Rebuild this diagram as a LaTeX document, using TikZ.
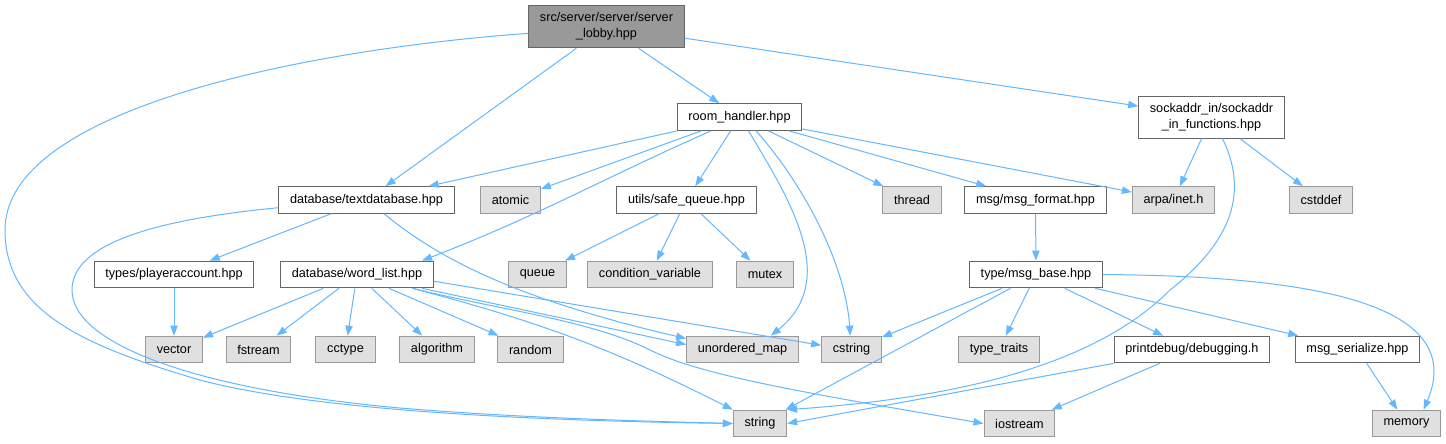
\documentclass[tikz,border=0pt]{standalone}
\usepackage{fontspec}
\setmainfont{Liberation Sans}
\usetikzlibrary{arrows.meta}
\definecolor{edgeblue}{HTML}{63B8FF}
\definecolor{boxline}{HTML}{666666}
\definecolor{sysline}{HTML}{999999}
\definecolor{sysfill}{HTML}{E0E0E0}
\definecolor{rootfill}{HTML}{999999}
\tikzset{
  every node/.style={font=\fontsize{9.5}{12}\selectfont,text=black,inner xsep=8.4pt,inner ysep=0pt,minimum height=20pt},
  hdr/.style={draw=boxline,fill=white,line width=.75pt},
  syshdr/.style={draw=sysline,fill=sysfill,line width=.75pt},
  rootfile/.style={draw=boxline,fill=rootfill,line width=.75pt,align=center,minimum height=32pt},
  twoline/.style={align=center,minimum height=31.5pt},
  incl/.style={-{Triangle[length=7.5pt,width=5.5pt]},draw=edgeblue,line width=.75pt},
}

\begin{document}
\begin{tikzpicture}[x=.75pt,y=-.75pt]
\path[use as bounding box] (0,0) rectangle (1446,443);
\fill[white] (0,0) rectangle (1446,443);
% files, one row per include depth
\node[rootfile] (lobby) at (606.5,26.5) {src/server/server/server\\\_lobby.hpp};
\node[hdr] (rh) at (739.5,117) {room\_handler.hpp};
\node[hdr,twoline] (sock) at (1211.5,117) {sockaddr\_in/sockaddr\\\_in\_functions.hpp};
\node[hdr] (tdb) at (366.5,200) {database/textdatabase.hpp};
\node[syshdr] (atomic) at (510.5,200) {atomic};
\node[hdr] (safeq) at (686.5,200) {utils/safe\_queue.hpp};
\node[syshdr] (thread) at (912,200) {thread};
\node[hdr] (msgfmt) at (1035.5,200) {msg/msg\_format.hpp};
\node[syshdr] (inet) at (1173.5,200) {arpa/inet.h};
\node[syshdr] (cstddef) at (1321,200) {cstddef};
\node[hdr] (player) at (174,274.5) {types/playeraccount.hpp};
\node[hdr] (wlist) at (357,274.5) {database/word\_list.hpp};
\node[syshdr] (queue) at (537.5,274.5) {queue};
\node[syshdr] (condvar) at (650,274.5) {condition\_variable};
\node[syshdr] (mutex) at (765,274.5) {mutex};
\node[hdr] (msgbase) at (1036,274.5) {type/msg\_base.hpp};
\node[syshdr] (vector) at (174,349.5) {vector};
\node[syshdr] (fstream) at (258.5,349.5) {fstream};
\node[syshdr] (cctype) at (345.5,349.5) {cctype};
\node[syshdr] (algo) at (437,349.5) {algorithm};
\node[syshdr] (random) at (530.5,349.5) {random};
\node[syshdr] (umap) at (742.5,349.5) {unordered\_map};
\node[syshdr] (cstring) at (851.5,349.5) {cstring};
\node[syshdr] (traits) at (999,349.5) {type\_traits};
\node[hdr] (debug) at (1192,349.5) {printdebug/debugging.h};
\node[hdr] (serial) at (1357.5,349.5) {msg\_serialize.hpp};
\node[syshdr] (str) at (760,423.5) {string};
\node[syshdr] (iostream) at (1019.5,423.5) {iostream};
\node[syshdr] (memory) at (1406.5,423.5) {memory};
% root includes
\draw[incl] (lobby.-175) .. controls (300,50) and (5,110) .. (5,230) .. controls (5,310) and (80,345) .. (200,380) .. controls (320,412) and (550,421) .. (str.west);
\draw[incl] (lobby) -- (tdb);
\draw[incl] (lobby) -- (rh);
\draw[incl] (lobby) -- (sock);
% room_handler.hpp
\draw[incl] (rh) -- (tdb);
\draw[incl] (rh) -- (atomic);
\draw[incl] (rh.-154) .. controls (600,180) and (540,215) .. (wlist.12);
\draw[incl] (rh) -- (safeq);
\draw[incl] (rh.-57) .. controls (790,200) and (840,280) .. (umap.26);
\draw[incl] (rh.-40) .. controls (800,180) and (845,260) .. (cstring.95);
\draw[incl] (rh) -- (thread);
\draw[incl] (rh) -- (msgfmt);
\draw[incl] (rh) -- (inet);
% sockaddr_in_functions.hpp
\draw[incl] (sock) -- (inet);
\draw[incl] (sock) -- (cstddef);
\draw[incl] (sock.-63) .. controls (1245,185) and (1240,235) .. (1170,290) .. controls (1110,350) and (1000,395) .. (str.north east);
% textdatabase.hpp and playeraccount.hpp
\draw[incl] (tdb.-175) .. controls (150,220) and (72,245) .. (72,290) .. controls (72,345) and (200,390) .. (400,408) .. controls (520,418) and (640,421) .. (str.west);
\draw[incl] (tdb) -- (player);
\draw[incl] (tdb.-38) .. controls (440,260) and (520,300) .. (umap.169);
\draw[incl] (player) -- (vector);
% word_list.hpp
\draw[incl] (wlist) -- (vector);
\draw[incl] (wlist) -- (fstream);
\draw[incl] (wlist) -- (cctype);
\draw[incl] (wlist) -- (algo);
\draw[incl] (wlist) -- (random);
\draw[incl] (wlist.-14) to[bend left=6] (str.north west);
\draw[incl] (wlist.-12) -- (umap.175);
\draw[incl] (wlist.-5) -- (cstring.172);
\draw[incl] (wlist.-14) .. controls (500,310) and (590,320) .. (650,350) .. controls (700,375) and (800,392) .. (iostream.west);
% safe_queue.hpp
\draw[incl] (safeq) -- (queue);
\draw[incl] (safeq) -- (condvar);
\draw[incl] (safeq) -- (mutex);
% message headers
\draw[incl] (msgfmt) -- (msgbase);
\draw[incl] (msgbase) -- (cstring);
\draw[incl] (msgbase) -- (str);
\draw[incl] (msgbase) -- (traits);
\draw[incl] (msgbase) -- (debug);
\draw[incl] (msgbase) -- (serial);
\draw[incl] (msgbase.east) .. controls (1300,276) and (1470,300) .. (memory.39);
\draw[incl] (debug.south west) -- (str.east);
\draw[incl] (debug) -- (iostream);
\draw[incl] (serial) -- (memory);
\end{tikzpicture}
\end{document}
